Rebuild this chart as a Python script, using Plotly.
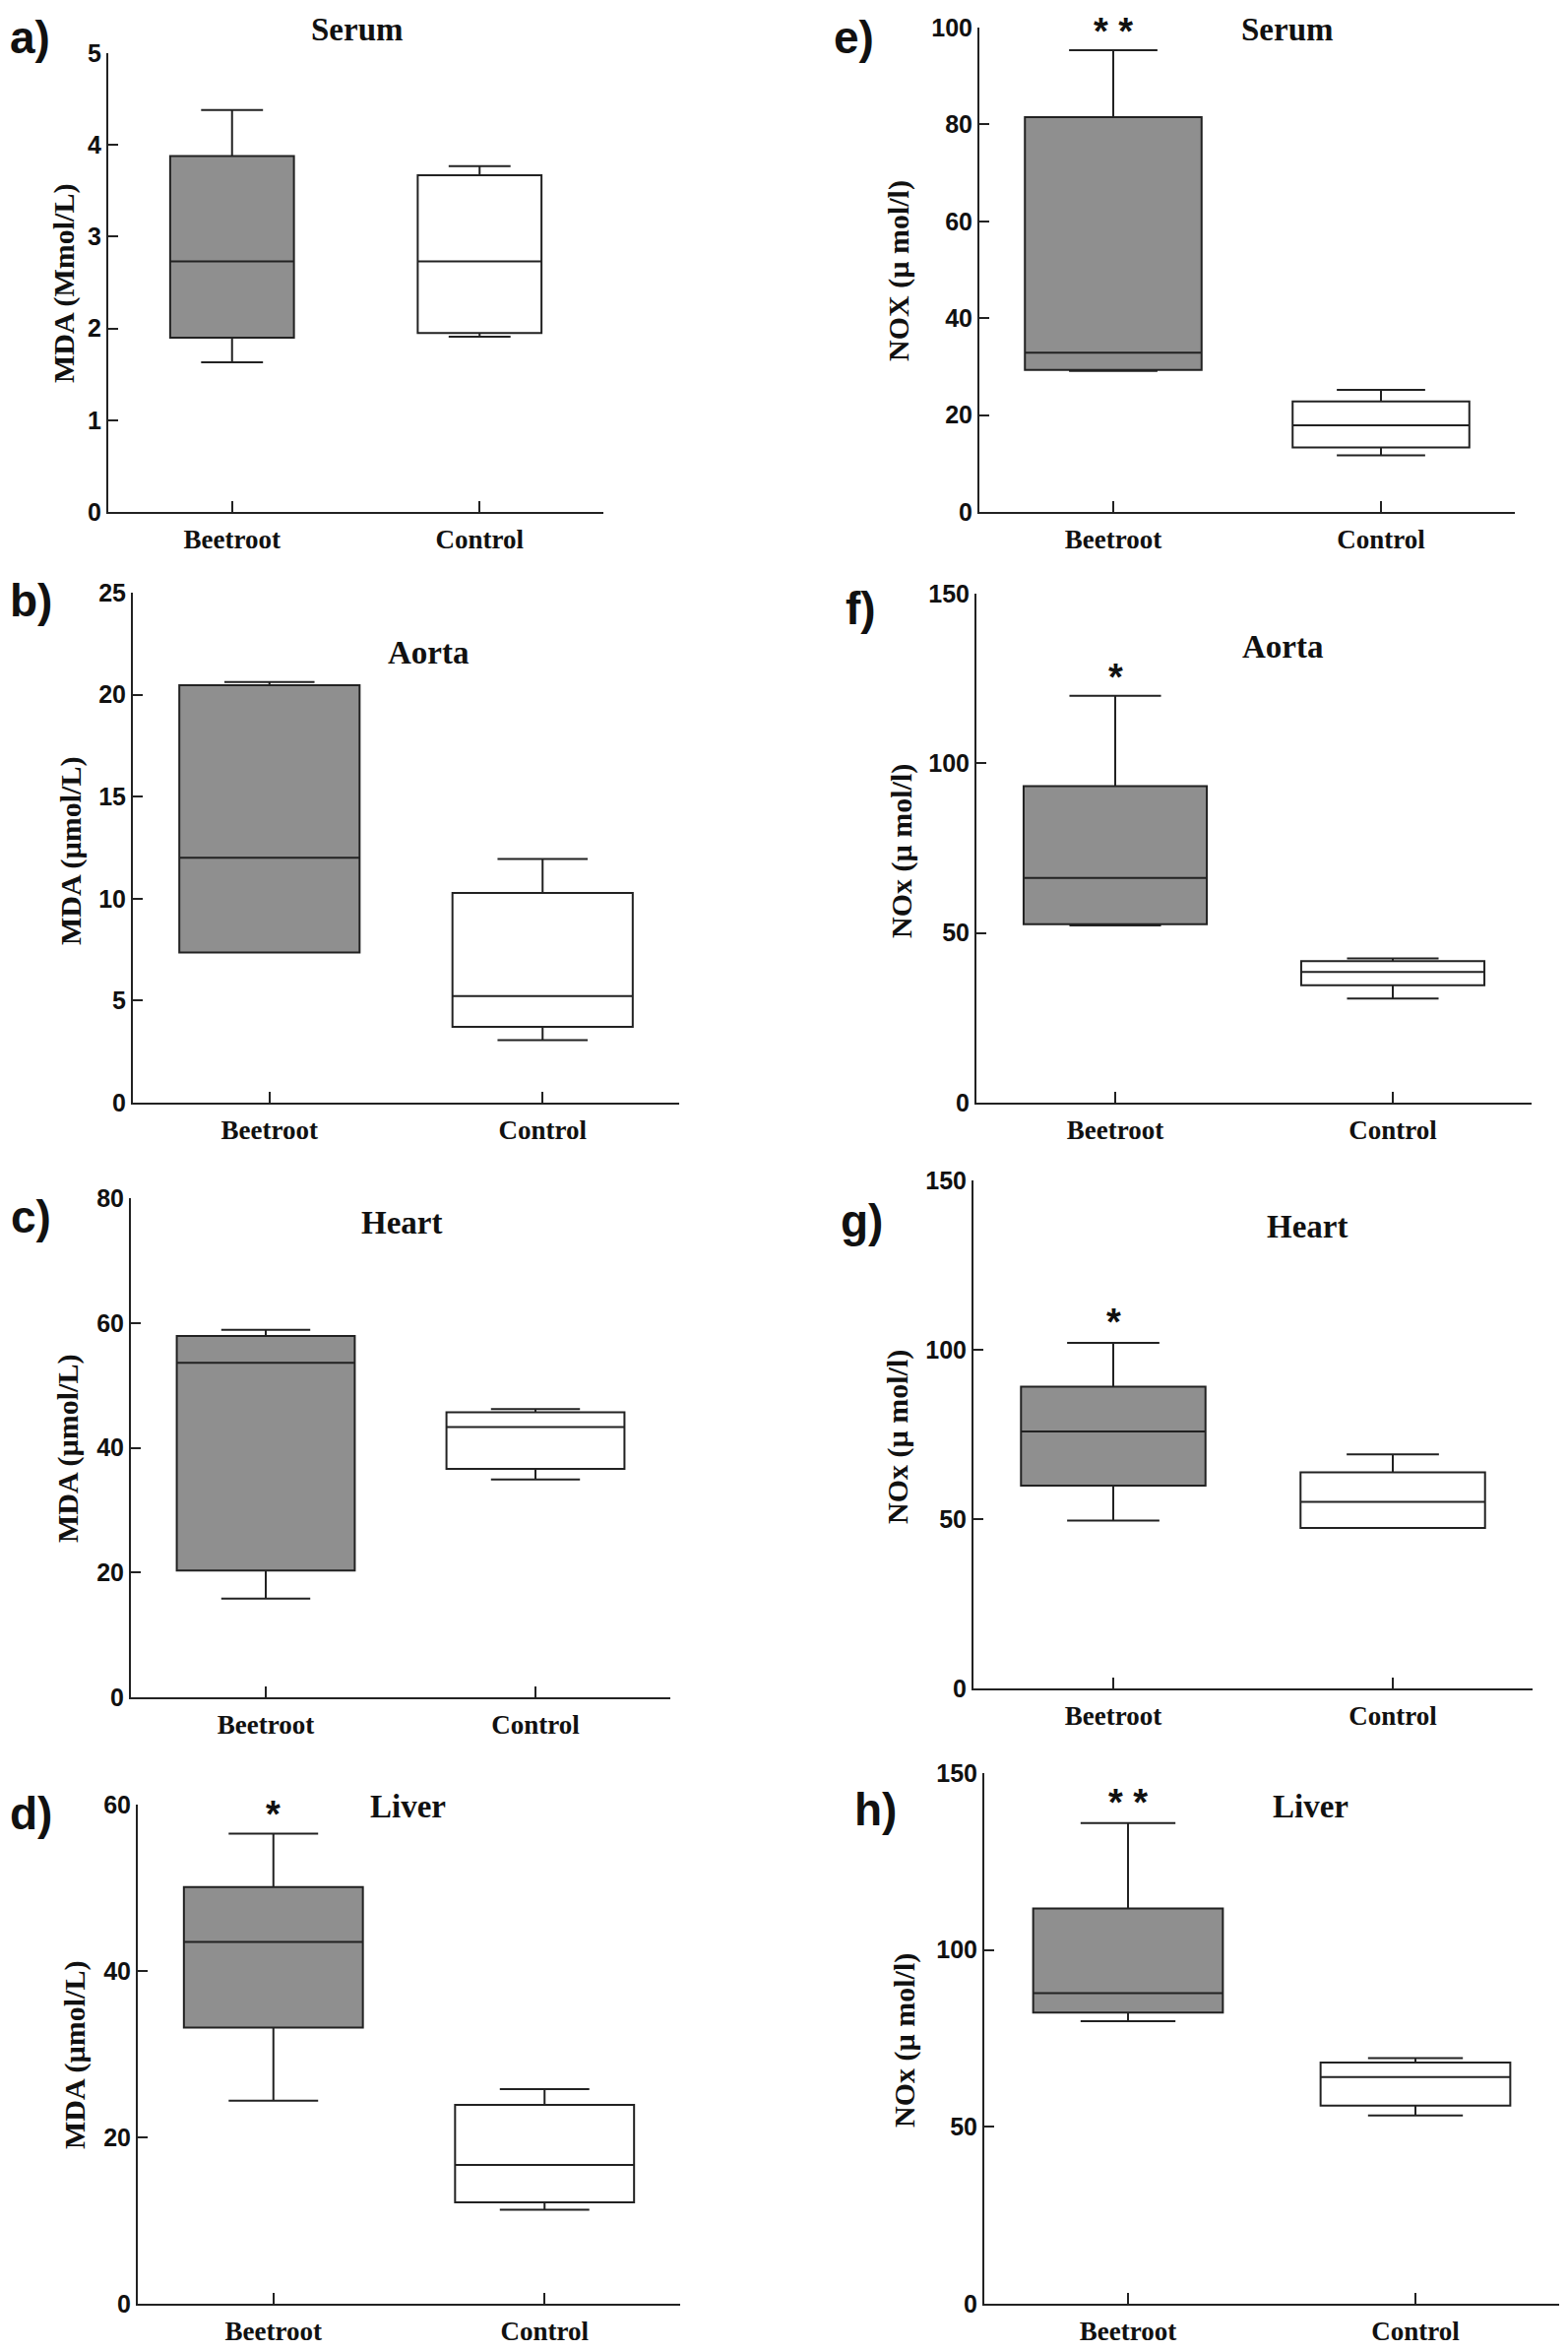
import plotly.graph_objects as go

PAGE_W, PAGE_H = 1593, 2388
BODY_MARGIN = 8  # default page margin around the figure
W, H = PAGE_W - BODY_MARGIN, PAGE_H - BODY_MARGIN

categories = ["Beetroot", "Control"]

# Box statistics per group: [min, q1, median, q3, max]
serum_mda_beetroot = [1.63, 1.90, 2.73, 3.88, 4.38]
serum_mda_control = [1.91, 1.95, 2.73, 3.67, 3.77]
aorta_mda_beetroot = [7.36, 7.36, 12.0, 20.46, 20.62]
aorta_mda_control = [3.07, 3.72, 5.22, 10.28, 11.95]
heart_mda_beetroot = [15.8, 20.3, 53.6, 57.9, 58.9]
heart_mda_control = [34.9, 36.6, 43.3, 45.7, 46.2]
liver_mda_beetroot = [24.4, 33.2, 43.5, 50.1, 56.5]
liver_mda_control = [11.3, 12.2, 16.7, 23.9, 25.8]

serum_nox_beetroot = [29.1, 29.3, 32.9, 81.5, 95.3]
serum_nox_control = [11.7, 13.3, 17.9, 22.8, 25.2]
aorta_nox_beetroot = [52.2, 52.6, 66.2, 93.3, 119.9]
aorta_nox_control = [30.7, 34.6, 38.5, 41.7, 42.5]
heart_nox_beetroot = [49.6, 59.9, 75.9, 89.1, 102.0]
heart_nox_control = [47.4, 47.4, 55.1, 63.8, 69.1]
liver_nox_beetroot = [79.9, 82.3, 87.8, 111.7, 135.9]
liver_nox_control = [53.2, 56.0, 64.1, 68.2, 69.4]

# y-axis tick values
ticks_serum_mda = [0, 1, 2, 3, 4, 5]
ticks_aorta_mda = [0, 5, 10, 15, 20, 25]
ticks_heart_mda = [0, 20, 40, 60, 80]
ticks_liver_mda = [0, 20, 40, 60]
ticks_serum_nox = [0, 20, 40, 60, 80, 100]
ticks_nox = [0, 50, 100, 150]

titles = ["Serum", "Aorta", "Heart", "Liver", "Serum", "Aorta", "Heart", "Liver"]
letters = ["a)", "b)", "c)", "d)", "e)", "f)", "g)", "h)"]
ylabels = ["MDA (Mmol/L)", "MDA (µmol/L)", "MDA (µmol/L)", "MDA (µmol/L)",
           "NOX (µ mol/l)", "NOx (µ mol/l)", "NOx (µ mol/l)", "NOx (µ mol/l)"]
stars = ["", "", "", "*", "* *", "*", "*", "* *"]

data = [
    (serum_mda_beetroot, serum_mda_control, ticks_serum_mda),
    (aorta_mda_beetroot, aorta_mda_control, ticks_aorta_mda),
    (heart_mda_beetroot, heart_mda_control, ticks_heart_mda),
    (liver_mda_beetroot, liver_mda_control, ticks_liver_mda),
    (serum_nox_beetroot, serum_nox_control, ticks_serum_nox),
    (aorta_nox_beetroot, aorta_nox_control, ticks_nox),
    (heart_nox_beetroot, heart_nox_control, ticks_nox),
    (liver_nox_beetroot, liver_nox_control, ticks_nox),
]

# layout geometry in page pixels: (x_left, x_right, y_top, y_bottom)
geom = [
    (110, 613, 54, 520),
    (135, 690, 602, 1120),
    (133, 681, 1217, 1724),
    (140, 691, 1833, 2340),
    (995, 1539, 28, 520),
    (992, 1556, 603, 1120),
    (989, 1557, 1199, 1715),
    (1000, 1584, 1801, 2340),
]
box_widths = [0.5, 0.66, 0.66, 0.66, 0.66, 0.66, 0.66, 0.66]
title_pos = [(363, 30), (435, 663), (408, 1242), (414, 1835),
             (1308, 30), (1303, 657), (1328, 1246), (1331, 1835)]
letter_pos = [(30, 38), (31, 610), (31, 1236), (31, 1842),
              (867, 38), (874, 618), (875, 1240), (890, 1838)]
ylabel_pos = [(65, 288), (72, 865), (69, 1472), (76, 2088),
              (913, 275), (916, 865), (912, 1459), (919, 2073)]
star_y = [0, 0, 0, 1833, 22, 678, 1333, 1821]

LINE = "#222222"
GRAY = "#8f8f8f"

fig = go.Figure()
layout = dict(
    width=W, height=H, margin=dict(l=0, r=0, t=0, b=0, autoexpand=False),
    paper_bgcolor="white", plot_bgcolor="rgba(0,0,0,0)",
    showlegend=False, boxmode="overlay", template="none",
)
annotations = []

def px2fx(x):
    return (x - BODY_MARGIN) / W

def px2fy(y):
    return 1 - (y - BODY_MARGIN) / H

for i, ((beet, ctrl, yt), (x0, x1, yt0, yb0)) in enumerate(zip(data, geom)):
    n = "" if i == 0 else str(i + 1)
    xa, ya = "x" + n, "y" + n
    for cat, vals, fill in ((categories[0], beet, GRAY), (categories[1], ctrl, "white")):
        fig.add_trace(go.Box(
            x=[cat], lowerfence=[vals[0]], q1=[vals[1]], median=[vals[2]],
            q3=[vals[3]], upperfence=[vals[4]],
            fillcolor=fill, line=dict(color=LINE, width=2),
            width=box_widths[i], whiskerwidth=0.5, boxpoints=False,
            xaxis=xa, yaxis=ya, hoverinfo="skip", showlegend=False,
        ))
    layout["xaxis" + n] = dict(
        domain=[px2fx(x0), px2fx(x1)], anchor=ya, type="category",
        categoryorder="array", categoryarray=categories, range=[-0.5, 1.5],
        showline=True, linecolor=LINE, linewidth=2, ticks="inside",
        ticklen=11, tickwidth=2, tickcolor=LINE, showgrid=False, zeroline=False,
        ticklabelstandoff=3, automargin=False,
        tickfont=dict(family="Liberation Serif", size=27, color="#111", weight="bold"),
    )
    layout["yaxis" + n] = dict(
        domain=[px2fy(yb0), px2fy(yt0)], anchor=xa, range=[0, yt[-1]],
        tickvals=yt, ticktext=[str(v) for v in yt],
        showline=True, linecolor=LINE, linewidth=2, ticks="inside",
        ticklen=10, tickwidth=2, tickcolor=LINE, showgrid=False, zeroline=False,
        automargin=False,
        tickfont=dict(family="Liberation Sans", size=25, color="#111", weight="bold"),
    )
    tx, ty = title_pos[i]
    annotations.append(dict(text=titles[i], x=px2fx(tx), y=px2fy(ty), xref="paper", yref="paper",
                            showarrow=False, xanchor="center", yanchor="middle",
                            font=dict(family="Liberation Serif", size=33, color="#111", weight="bold")))
    lx, ly = letter_pos[i]
    annotations.append(dict(text=letters[i], x=px2fx(lx), y=px2fy(ly), xref="paper", yref="paper",
                            showarrow=False, xanchor="center", yanchor="middle", borderpad=0,
                            font=dict(family="Liberation Sans", size=46, color="#111", weight="bold")))
    yx, yy = ylabel_pos[i]
    annotations.append(dict(text=ylabels[i], x=px2fx(yx), y=px2fy(yy), xref="paper", yref="paper",
                            showarrow=False, xanchor="center", yanchor="middle", textangle=-90,
                            font=dict(family="Liberation Serif", size=30, color="#111", weight="bold")))
    if stars[i]:
        annotations.append(dict(text=stars[i], x=categories[0], xref=xa,
                                y=px2fy(star_y[i] + 10), yref="paper",
                                showarrow=False, xanchor="center", yanchor="middle", borderpad=0,
                                font=dict(family="Liberation Sans", size=38, color="#111", weight="bold")))

layout["annotations"] = annotations
fig.update_layout(**layout)
fig.write_html("out.html")
